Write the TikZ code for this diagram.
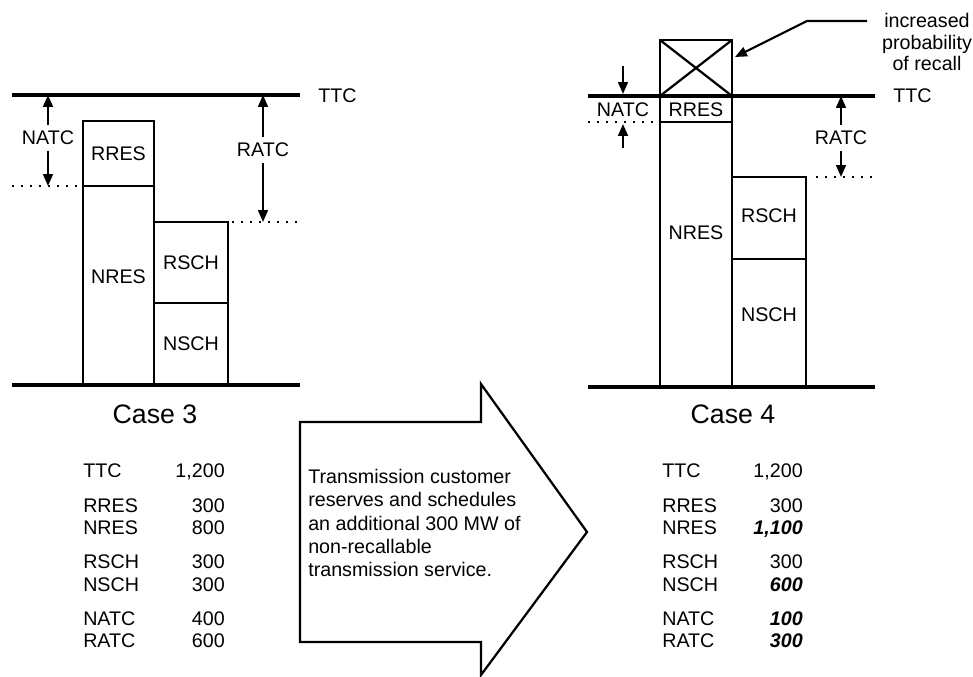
\documentclass[tikz,border=0pt]{standalone}
\usepackage{fontspec}
\setmainfont{Liberation Sans}
\usepackage{tikz}
\usetikzlibrary{arrows.meta, positioning}

\begin{document}
\begin{tikzpicture}[x=0.025cm, y=-0.025cm,
  every node/.style={font=\fontsize{14}{15.6}\selectfont, inner sep=0pt},
  level/.style={line width=3pt},
  bar/.style={draw, line width=1.6pt},
  arr/.style={line width=1.5pt, -{Triangle[length=8.5pt,width=7pt]}},
  dots/.style={line width=1.4pt, dash pattern=on 1.4pt off 5pt},
  gap/.style={inner sep=4pt},
  casehead/.style={font=\fontsize{19}{22}\selectfont},
  key/.style={anchor=base west},
  val/.style={anchor=base east},
  newval/.style={anchor=base east, font=\fontsize{14}{15.6}\selectfont\bfseries\itshape}
]
\useasboundingbox (0,0) rectangle (973,677);

% case 3
\coordinate (ttcA) at (12,95);
\coordinate (baseA) at (12,385);
\draw[level] (ttcA) -- (300,95);
\draw[level] (baseA) -- (300,385);
\node[anchor=west] (ttcAlbl) at (318,96) {TTC};
\draw[bar] (83,121) rectangle (154,186);
\draw[bar] (83,186) rectangle (154,385);
\draw[bar] (154,222) rectangle (228,303);
\draw[bar] (154,303) rectangle (228,385);
\node (rresA) at (118.5,153.5) {RRES};
\node (nresA) at (118.5,277) {NRES};
\node (rschA) at (191,262.5) {RSCH};
\node (nschA) at (191,344) {NSCH};
\coordinate (natcAend) at (48,186);
\coordinate (ratcAend) at (263,222);
\draw[dots] (12,186) -- (83,186);
\draw[dots] (232,222) -- (300,222);
\node[gap] (natcA) at (48,138) {NATC};
\draw[arr] (natcA.north) -- (natcA.north |- ttcA);
\draw[arr] (natcA.south) -- (natcAend);
\node[gap] (ratcA) at (263,150) {RATC};
\draw[arr] (ratcA.north) -- (ratcA.north |- ttcA);
\draw[arr] (ratcA.south) -- (ratcAend);
\node[casehead, anchor=base] (caseA) at (155,423) {Case 3};

% case 4
\coordinate (ttcB) at (588,96);
\coordinate (baseB) at (588,387);
\draw[level] (ttcB) -- (875,96);
\draw[level] (baseB) -- (875,387);
\node[anchor=west] (ttcBlbl) at (893,96) {TTC};
\draw[bar] (660,40) rectangle (732,96);
\draw[line width=1.6pt] (660,40) -- (732,96) (732,40) -- (660,96);
\draw[bar] (660,96) rectangle (732,122);
\draw[bar] (660,122) rectangle (732,387);
\draw[bar] (732,177) rectangle (806,259);
\draw[bar] (732,259) rectangle (806,387);
\node (rresB) at (696,110) {RRES};
\node (nresB) at (696,233) {NRES};
\node (rschB) at (769,216) {RSCH};
\node (nschB) at (769,315) {NSCH};
\draw[dots] (588,122) -- (660,122);
\draw[dots] (816,177) -- (875,177);
\node (natcB) at (623,110) {NATC};
\coordinate (natcBtop) at (623,66);
\coordinate (natcBbot) at (623,148);
\draw[arr] (natcBtop) -- (623,94);
\draw[arr] (natcBbot) -- (623,124);
\node[gap] (ratcB) at (841,138) {RATC};
\coordinate (ratcBend) at (841,177);
\draw[arr] (ratcB.north) -- (ratcB.north |- ttcB);
\draw[arr] (ratcB.south) -- (ratcBend);
\node[casehead, anchor=base] (caseB) at (733,423) {Case 4};

% recall note
\node[align=center] (note) at (927,42) {increased\\probability\\of recall};
\coordinate (noteL) at (867,21);
\coordinate (bend) at (807,21);
\coordinate (hit) at (735,57);
\draw[arr] (noteL) -- (bend) -- (hit);

% big arrow
\draw[line width=1.6pt, line join=miter] (300,422) -- (481,422) -- (481,384) -- (587,532)
  -- (481,675) -- (481,642) -- (300,642) -- cycle;
\node[anchor=north west, align=left, font=\fontsize{14}{16.6}\selectfont] (change) at (308,469)
  {Transmission customer\\reserves and schedules\\an additional 300 MW of\\non-recallable\\transmission service.};

% table 3
\node[key] (kTTCA) at (83,477) {TTC};
\node[val] (vTTCA) at (225,477) {1,200};
\node[key] (kRRESA) at (83,512) {RRES};
\node[val] (vRRESA) at (225,512) {300};
\node[key] (kNRESA) at (83,534) {NRES};
\node[val] (vNRESA) at (225,534) {800};
\node[key] (kRSCHA) at (83,568) {RSCH};
\node[val] (vRSCHA) at (225,568) {300};
\node[key] (kNSCHA) at (83,591) {NSCH};
\node[val] (vNSCHA) at (225,591) {300};
\node[key] (kNATCA) at (83,625) {NATC};
\node[val] (vNATCA) at (225,625) {400};
\node[key] (kRATCA) at (83,647) {RATC};
\node[val] (vRATCA) at (225,647) {600};

% table 4
\node[key] (kTTCB) at (662,477) {TTC};
\node[val] (vTTCB) at (803,477) {1,200};
\node[key] (kRRESB) at (662,512) {RRES};
\node[val] (vRRESB) at (803,512) {300};
\node[key] (kNRESB) at (662,534) {NRES};
\node[newval] (vNRESB) at (803,534) {1,100};
\node[key] (kRSCHB) at (662,568) {RSCH};
\node[val] (vRSCHB) at (803,568) {300};
\node[key] (kNSCHB) at (662,591) {NSCH};
\node[newval] (vNSCHB) at (803,591) {600};
\node[key] (kNATCB) at (662,625) {NATC};
\node[newval] (vNATCB) at (803,625) {100};
\node[key] (kRATCB) at (662,647) {RATC};
\node[newval] (vRATCB) at (803,647) {300};
\end{tikzpicture}
\end{document}
